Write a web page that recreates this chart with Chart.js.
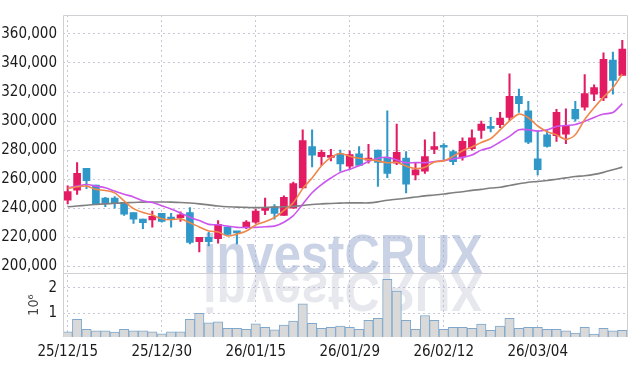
<!DOCTYPE html>
<html>
<head>
<meta charset="utf-8">
<script src="https://cdn.jsdelivr.net/npm/chart.js@4/dist/chart.umd.min.js"></script>
<style>
  html, body { margin: 0; padding: 0; background: #fff; }
  canvas { display: block; }
</style>
</head>
<body>
<canvas id="chart" width="637" height="366"></canvas>
<script>
const dates = [
  '25/12/15','25/12/16','25/12/17','25/12/18','25/12/19','25/12/22','25/12/23','25/12/24','25/12/26','25/12/29',
  '25/12/30','26/01/02','26/01/05','26/01/06','26/01/07','26/01/08','26/01/09','26/01/12','26/01/13','26/01/14',
  '26/01/15','26/01/16','26/01/19','26/01/20','26/01/21','26/01/22','26/01/23','26/01/26','26/01/27','26/01/28',
  '26/01/29','26/01/30','26/02/02','26/02/03','26/02/04','26/02/05','26/02/06','26/02/09','26/02/10','26/02/11',
  '26/02/12','26/02/13','26/02/19','26/02/20','26/02/23','26/02/24','26/02/25','26/02/26','26/02/27','26/03/03',
  '26/03/04','26/03/05','26/03/06','26/03/09','26/03/10','26/03/11','26/03/12','26/03/13','26/03/16','26/03/17'
]

const open = [
  245500,252500,267500,256000,247000,247000,244000,237000,232500,232000,
  236500,234000,233500,237000,217000,220000,219000,227000,223500,227000,
  230500,238500,241000,235000,240000,254000,282500,275500,275000,277500,
  269000,277500,273000,280000,275000,271000,274500,263000,265500,280500,
  282500,279000,275500,281000,293500,295500,297500,302500,317000,307000,
  274000,290500,290000,291000,308000,309500,318500,316000,342000,331500
]
const close = [
  251500,264000,259000,243000,243500,243500,236000,232500,230000,234500,
  231000,232500,235500,216500,220000,217000,229000,222000,223000,230500,
  238000,240000,236500,247500,257000,286500,276500,278500,276500,270500,
  277000,269500,274500,271500,264000,278500,256500,266500,275500,282500,
  282000,272000,286000,288500,298000,295000,302000,317000,312000,285500,
  266500,282500,306000,296500,301500,319000,323000,342500,328000,349500
]
const high = [
  255500,271500,267500,256000,247500,248000,244000,237000,232500,238000,
  236500,236500,237500,240500,220000,223500,231500,227000,224000,231500,
  239500,247000,242500,248500,258000,294000,294000,280000,280500,280000,
  279500,282500,284000,280000,307000,298000,279000,271500,287000,292500,
  284500,280000,288500,294000,300000,302500,306000,332500,322000,313500,
  293500,293500,308000,308500,313500,332000,325000,347000,347500,355500
]
const low = [
  243000,249500,253500,243000,241000,240000,235000,229500,226000,227000,
  230500,227000,231000,215500,210000,214000,216000,221500,215500,226000,
  229500,235500,232500,235000,240000,254000,268500,269500,272500,265500,
  266500,269500,271000,255000,261000,270000,250500,259500,264000,277500,
  273500,270000,273000,280000,288000,292500,295500,300500,306000,284500,
  263000,282000,286000,284500,300000,307500,314000,314000,318500,331500
]

const ma5 = [
  253600,254800,255200,253000,252200,250600,245000,239700,237100,235300,
  232800,232100,232700,230000,227100,224300,223600,220900,222200,224300,
  228500,230700,233600,238500,243800,253500,260800,269200,275000,277700,
  275800,274400,273600,272600,271300,271600,269000,267400,268200,271900,
  272600,275700,279600,282200,285300,287900,293900,300100,304800,302300,
  296600,292700,290500,287400,290600,301100,309200,316500,322800,332400
]
const ma10 = [
  254100,255200,256300,255200,254100,251800,249600,247800,245100,243900,
  241700,239400,236700,233800,231500,228900,228600,227700,226800,226800,
  226800,227300,227700,230400,234900,242800,250700,256300,260800,264700,
  266900,269200,272100,274400,275000,273200,271400,271400,271400,272100,
  272800,273900,275000,276600,280000,281800,285600,289500,294000,294000,
  293100,294000,296200,296900,297600,299800,302500,304800,305900,312000
]
const ma60 = [
  241000,241500,242100,242600,243000,243400,243700,244000,244200,244300,
  244300,244200,244000,243600,243000,242300,241500,241000,240800,240600,
  240400,240600,240800,241000,241300,241900,242600,243000,243300,243500,
  243700,243700,243700,244400,245500,246200,246900,247700,248500,249100,
  249800,250700,251400,252300,253000,253900,254500,255700,256800,257900,
  258400,259100,260000,260900,261800,262400,263300,264700,266500,268300
]

// volume, in 10^6 shares
const volume = [
  0.28,0.77,0.38,0.32,0.32,0.27,0.38,0.32,0.32,0.28,
  0.20,0.28,0.28,0.77,1.00,0.63,0.67,0.42,0.42,0.38,
  0.59,0.46,0.36,0.54,0.70,1.38,0.61,0.42,0.46,0.50,
  0.46,0.38,0.73,0.81,2.34,1.88,0.73,0.38,0.92,0.73,
  0.38,0.46,0.46,0.42,0.58,0.34,0.50,0.81,0.42,0.46,
  0.46,0.38,0.38,0.32,0.23,0.46,0.19,0.42,0.32,0.34
]

const priceTicks = [200000,220000,240000,260000,280000,300000,320000,340000,360000]
const volumeTicks = [1, 2]

const UP = '#e31b63'
const DOWN = '#3097c9'
const GRID = '#c6c8d8'
const FRAME = '#d0d0d4'
const tickFont = { family: "'Liberation Sans Narrow', 'DejaVu Sans Condensed', sans-serif", size: 15 }

const candleColor = open.map((o, i) => close[i] >= o ? UP : DOWN)

const frame = {
  id: 'frame',
  beforeDatasetsDraw (chart) {
    const { ctx, chartArea } = chart
    const y = chart.scales.y
    const txt = 'investCRUX'
    ctx.save()
    ctx.font = 'bold 56px "Liberation Sans", Arial, sans-serif'
    const w = ctx.measureText(txt).width
    const sx = 280 / w
    const cx = (chartArea.left + chartArea.right) / 2 - 2
    const base = y.bottom
    ctx.textAlign = 'center'
    ctx.textBaseline = 'alphabetic'
    ctx.translate(cx, base)
    ctx.scale(sx, 1)
    ctx.fillStyle = 'rgba(150,165,205,0.5)'
    ctx.fillText(txt, 0, 0)
    ctx.scale(1, -1)
    ctx.fillStyle = 'rgba(175,175,200,0.3)'
    ctx.fillText(txt, 0, 0)
    ctx.restore()
  },
  afterDraw (chart) {
    const { ctx, chartArea } = chart
    const y = chart.scales.y
    ctx.save()
    ctx.strokeStyle = FRAME
    ctx.lineWidth = 1
    ctx.beginPath()
    ctx.moveTo(chartArea.left + 0.5, chartArea.bottom)
    ctx.lineTo(chartArea.left + 0.5, chartArea.top + 0.5)
    ctx.lineTo(chartArea.right + 0.5, chartArea.top + 0.5)
    ctx.lineTo(chartArea.right + 0.5, chartArea.bottom)
    ctx.moveTo(chartArea.left, Math.round(y.bottom) + 0.5)
    ctx.lineTo(chartArea.right, Math.round(y.bottom) + 0.5)
    ctx.stroke()
    ctx.restore()
  }
}

const ctx = document.getElementById('chart')
const chart = new Chart(ctx, {
  type: 'bar',
  data: {
    labels: dates,
    datasets: [
      { type: 'line', label: 'MA5', data: ma5, yAxisID: 'y', borderColor: '#f0874a', borderWidth: 1.6, pointRadius: 0, tension: 0.3, order: 0 },
      { type: 'line', label: 'MA10', data: ma10, yAxisID: 'y', borderColor: '#cc55ee', borderWidth: 1.6, pointRadius: 0, tension: 0.3, order: 0 },
      { type: 'line', label: 'MA60', data: ma60, yAxisID: 'y', borderColor: '#7f7f7f', borderWidth: 1.6, pointRadius: 0, tension: 0.3, order: 0 },
      { label: 'body', data: open.map((o, i) => [o, close[i]]), yAxisID: 'y', backgroundColor: candleColor,
        barThickness: 7, minBarLength: 2, grouped: false, order: 1 },
      { label: 'wick', data: low.map((l, i) => [l, high[i]]), yAxisID: 'y', backgroundColor: candleColor,
        barThickness: 1.4, grouped: false, order: 2 },
      { label: 'volume', data: volume, yAxisID: 'yv', backgroundColor: '#d9d9d9', borderColor: '#7fa8cc', borderWidth: 1,
        barPercentage: 1, categoryPercentage: 1, grouped: false, order: 3 }
    ]
  },
  options: {
    responsive: false,
    animation: false,
    devicePixelRatio: 1,
    layout: { padding: { top: 9, right: 10, left: 0, bottom: 0 } },
    plugins: { legend: { display: false }, tooltip: { enabled: false } },
    scales: {
      x: {
        offset: true,
        border: { display: false, dash: [2, 3] },
        grid: { offset: false, drawTicks: false, color: c => c.index % 10 === 0 ? GRID : 'rgba(0,0,0,0)' },
        ticks: { autoSkip: false, maxRotation: 0, padding: 6, color: '#1a1a1a', font: tickFont,
          callback: (v, i) => i % 10 === 0 ? dates[i] : '' },
        afterFit: s => { s.height = 29 }
      },
      yv: {
        position: 'left', stack: 'panels', stackWeight: 65,
        min: 0.077, max: 2.577,
        border: { display: false, dash: [2, 3] },
        grid: { drawTicks: false, color: GRID },
        ticks: { autoSkip: false, padding: 6, color: '#1a1a1a', font: tickFont },
        afterBuildTicks: s => { s.ticks = volumeTicks.map(v => ({ value: v })) },
        title: { display: true, text: '10⁶', color: '#444', font: { family: "'Liberation Sans Narrow', 'DejaVu Sans Condensed', sans-serif", size: 14 }, padding: { top: 26, bottom: 0 } },
        afterFit: s => { s.width = 63 }
      },
      y: {
        position: 'left', stack: 'panels', stackWeight: 263,
        min: 195300, max: 373000,
        border: { display: false, dash: [2, 3] },
        grid: { drawTicks: false, color: GRID },
        ticks: { autoSkip: false, padding: 6, color: '#1a1a1a', font: tickFont },
        afterBuildTicks: s => { s.ticks = priceTicks.map(v => ({ value: v })) },
        afterFit: s => { s.width = 63 }
      }
    }
  },
  plugins: [frame]
})
</script>
</body>
</html>
